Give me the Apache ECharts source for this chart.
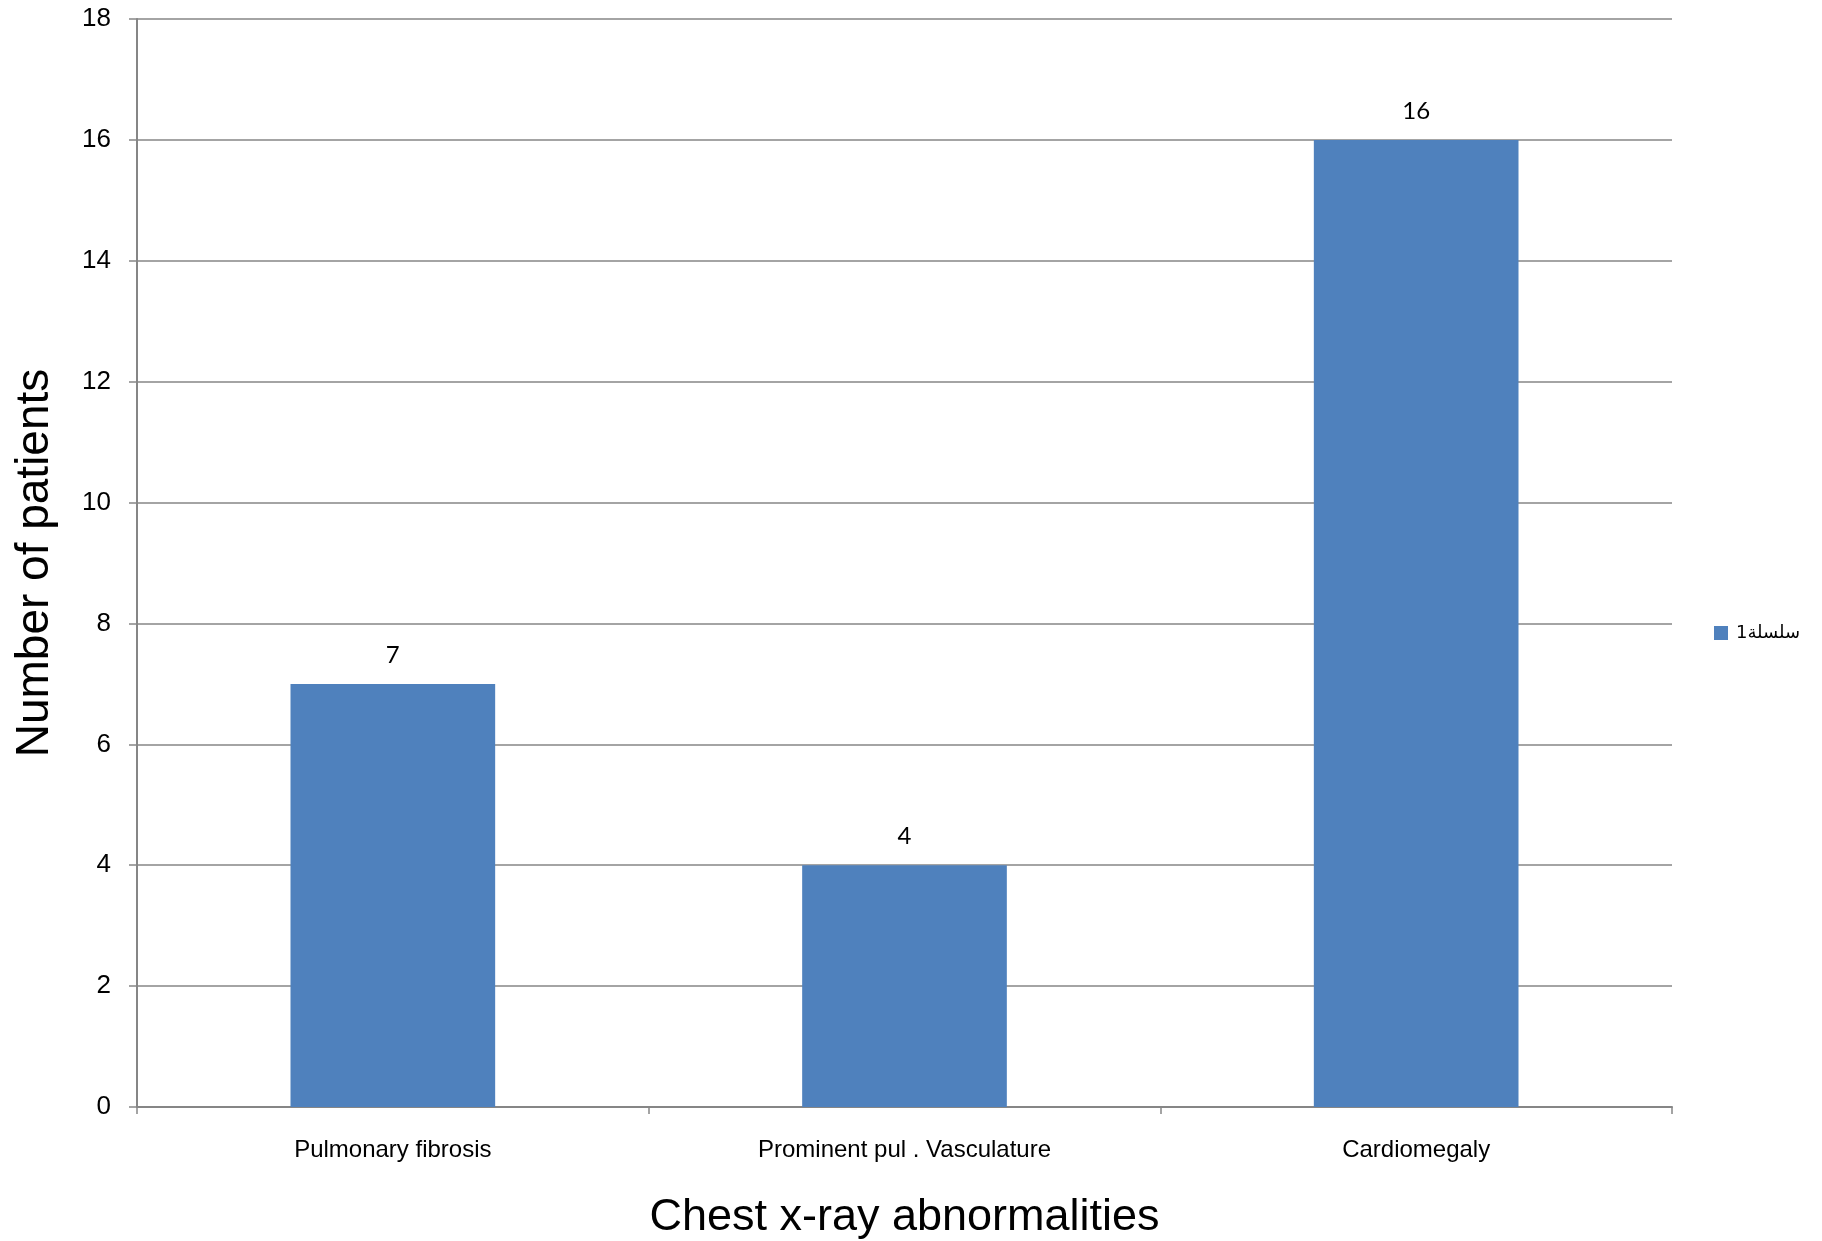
<!DOCTYPE html>
<html>
<head>
<meta charset="utf-8">
<script src="https://cdn.jsdelivr.net/npm/echarts@6/dist/echarts.min.js"></script>
<style>
  html, body { margin: 0; padding: 0; background: #ffffff; }
  #chart { width: 1822px; height: 1241px; }
</style>
</head>
<body>
<div id="chart"></div>
<script>
// Chest x-ray findings, patient counts
const categories = ['Pulmonary fibrosis', 'Prominent pul . Vasculature', 'Cardiomegaly'];
const patientCounts = [7, 4, 16];
const seriesName = 'سلسلة1';
const yTicks = { min: 0, max: 18, interval: 2 };

const axisGray = '#868686';
const barBlue = '#4f81bd';

const chart = echarts.init(document.getElementById('chart'), null, { renderer: 'canvas' });

chart.setOption({
  backgroundColor: '#ffffff',
  animation: false,
  grid: { left: 137, right: 150, top: 19, bottom: 134, containLabel: false, outerBoundsMode: 'none' },
  legend: {
    left: 1709,
    top: 619,
    orient: 'vertical',
    itemWidth: 14,
    itemHeight: 14,
    icon: 'rect',
    data: [seriesName],
    textStyle: { fontFamily: 'DejaVu Sans, Liberation Sans, sans-serif', fontSize: 18, color: '#000', padding: [0, 0, 0, 3] }
  },
  xAxis: {
    type: 'category',
    data: categories,
    name: 'Chest x-ray abnormalities',
    nameLocation: 'middle',
    nameGap: 88,
    nameTextStyle: { fontFamily: 'Liberation Sans, Arial, sans-serif', fontSize: 45, color: '#000' },
    axisLine: { show: true, lineStyle: { color: axisGray, width: 2 } },
    axisTick: { show: true, alignWithLabel: false, length: 7, lineStyle: { color: axisGray, width: 1.5 } },
    axisLabel: { margin: 31, fontFamily: 'Liberation Sans, Arial, sans-serif', fontSize: 24, color: '#000' },
    splitLine: { show: false }
  },
  yAxis: {
    type: 'value',
    min: yTicks.min,
    max: yTicks.max,
    interval: yTicks.interval,
    name: 'Number of patients',
    nameLocation: 'middle',
    nameGap: 79,
    nameRotate: 90,
    nameTextStyle: { fontFamily: 'Liberation Sans, Arial, sans-serif', fontSize: 46, color: '#000' },
    axisLine: { show: true, lineStyle: { color: axisGray, width: 2 } },
    axisTick: { show: true, length: 8, lineStyle: { color: axisGray, width: 1.5 } },
    axisLabel: { margin: 26, fontFamily: 'Liberation Sans, Arial, sans-serif', fontSize: 26, color: '#000' },
    splitLine: { show: true, lineStyle: { color: axisGray, width: 1.5 } }
  },
  series: [{
    name: seriesName,
    type: 'bar',
    data: patientCounts,
    barWidth: '40%',
    itemStyle: { color: barBlue },
    label: {
      show: true,
      position: 'top',
      distance: 17,
      fontFamily: 'Lato, Liberation Sans, sans-serif',
      fontSize: 24,
      color: '#000'
    }
  }]
});
</script>
</body>
</html>
